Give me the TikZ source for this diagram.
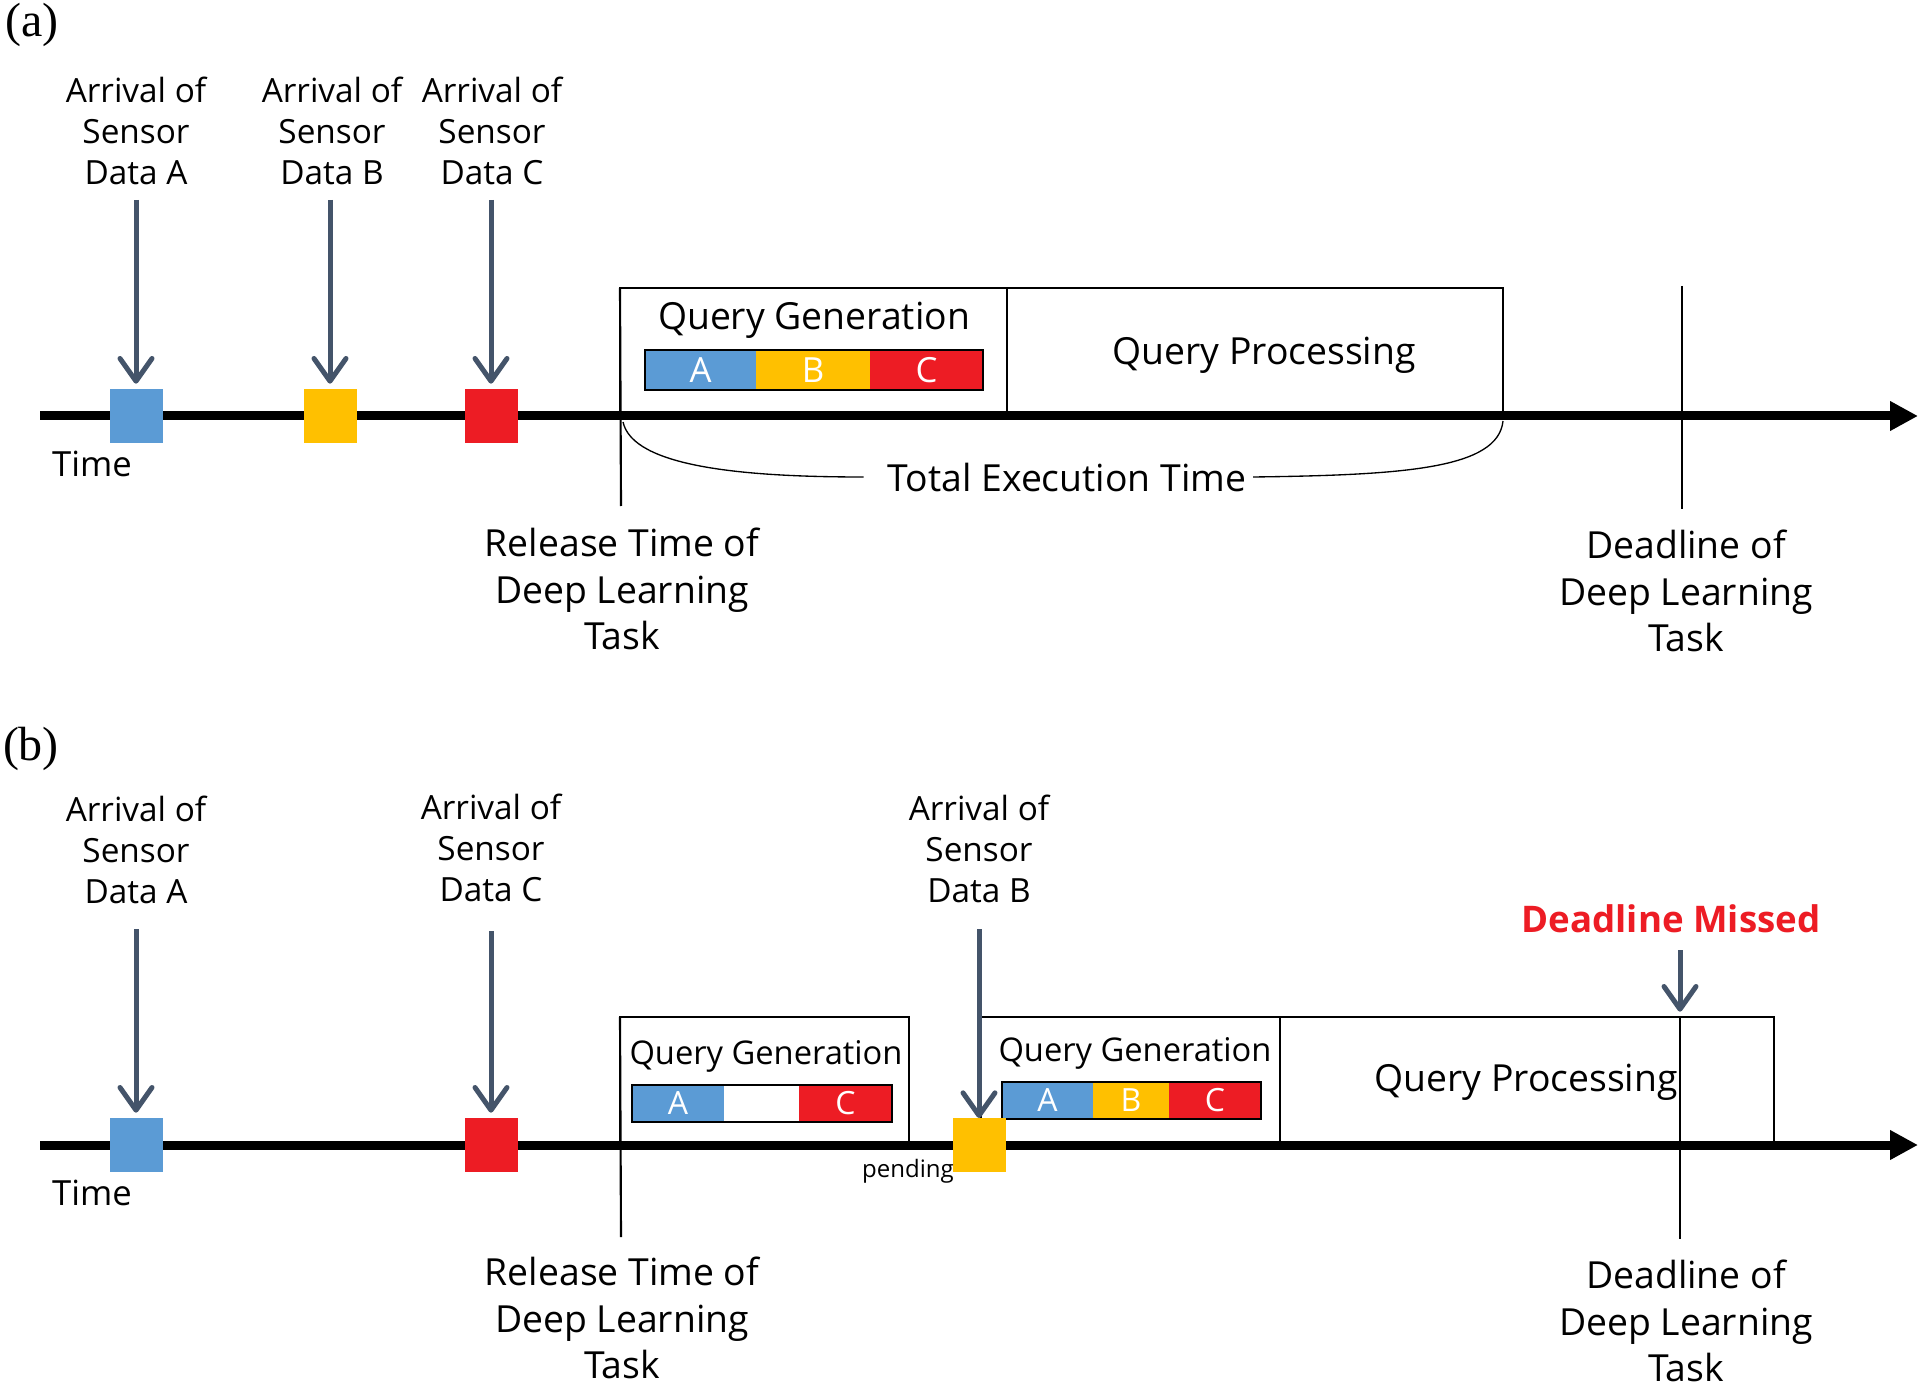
\documentclass[tikz,border=0pt]{standalone}
\usepackage{fontspec}
\setmainfont{Open Sans}
\newfontfamily\panelfont{Liberation Serif}
\usetikzlibrary{arrows.meta}
\definecolor{cblue}{HTML}{5B9BD5}
\definecolor{cyel}{HTML}{FFC000}
\definecolor{cred}{HTML}{ED1C24}
\definecolor{carr}{HTML}{44546A}
\begin{document}
\begin{tikzpicture}[x=0.75pt,y=-0.75pt,
  lbl/.style={align=center,inner sep=0pt,font=\fontsize{25}{30.75}\selectfont},
  big/.style={align=center,inner sep=0pt,font=\fontsize{28}{35}\selectfont},
  qtext/.style={inner sep=0pt,font=\fontsize{28}{34}\selectfont},
  qsmall/.style={inner sep=0pt,font=\fontsize{24.5}{30}\selectfont},
  sqr/.style={minimum width=39.75pt,minimum height=40.5pt,inner sep=0pt,outer sep=0pt},
  arr/.style={draw=carr,line width=3.75pt,-{Straight Barb[length=17pt,width=24pt,line cap=round,line join=round]}},
  taxis/.style={line width=6.75pt,-{Triangle[length=21pt,width=21pt]}},
  qbox/.style={draw,line width=1.2pt,inner sep=0pt,outer sep=0pt,anchor=north west,minimum height=96pt},
  seg/.style={inner sep=0pt,outer sep=0pt,anchor=north west,text=white},
  vline/.style={line width=1.6pt},
  panel/.style={inner sep=0pt,font=\panelfont\fontsize{36}{40}\selectfont}
]
\useasboundingbox[fill=white] (0,0) rectangle (1924,1387);

% ================= panel (a) =================
\node[panel] (pa) at (32,25) {(a)};

\node[qbox,minimum width=290.25pt] (qga) at (620,288) {};
\node[qbox,minimum width=372pt] (qpa) at (1007,288) {};
\node[qtext] (tqga) at (814,320) {Query Generation};
\node[qtext] (tqpa) at (1264,355) {Query Processing};

\node[seg,fill=cblue,minimum width=83.25pt,minimum height=30pt,font=\fontsize{26}{30}\selectfont] (baA) at (645,350) {A};
\node[seg,fill=cyel,minimum width=85.5pt,minimum height=30pt,font=\fontsize{26}{30}\selectfont] (baB) at (756,350) {B};
\node[seg,fill=cred,minimum width=84.75pt,minimum height=30pt,font=\fontsize{26}{30}\selectfont] (baC) at (870,350) {C};
\draw[line width=1.8pt] (baA.north west) rectangle (baC.south east);

\coordinate (rela) at (621,506);
\draw[vline] (qga.north west) -- (rela);
\coordinate (dla1) at (1682,286);
\coordinate (dla2) at (1682,509);
\draw[vline] (dla1) -- (dla2);

\coordinate (axa0) at (40,416);
\coordinate (axa1) at (1918,416);
\draw[taxis] (axa0) -- (axa1);

\node[sqr,fill=cblue] (sqaA) at (136,416) {};
\node[sqr,fill=cyel] (sqaB) at (330,416) {};
\node[sqr,fill=cred] (sqaC) at (491,416) {};

\node[lbl] (laA) at (136,131) {Arrival of\\Sensor\\Data A};
\node[lbl] (laB) at (332,131) {Arrival of\\Sensor\\Data B};
\node[lbl] (laC) at (492,131) {Arrival of\\Sensor\\Data C};
\draw[arr] (sqaA |- 0,200) -- ([yshift=4pt]sqaA.north);
\draw[arr] (sqaB |- 0,200) -- ([yshift=4pt]sqaB.north);
\draw[arr] (sqaC |- 0,200) -- ([yshift=4pt]sqaC.north);

\node[lbl,font=\fontsize{26}{30}\selectfont] (tima) at (92,464) {Time};
\node[big] (rta) at (622,589) {Release Time of\\Deep Learning\\Task};
\node[big] (dta) at (1686,591) {Deadline of\\Deep Learning\\Task};

\node[qtext,fill=white,inner xsep=2pt] (teta) at (1067,477) {Total Execution Time};
\draw[line width=1pt] (623,422) .. controls +(10,45) and +(-120,0) .. ([xshift=-16pt]teta.west);
\draw[line width=1pt] ([xshift=3pt]teta.east) .. controls +(150,-2) and +(-5,48) .. (1503,421);

% ================= panel (b) =================
\node[panel] (pb) at (31,749) {(b)};

\node[qbox,minimum width=216.75pt] (qgb1) at (620,1017) {};
\node[qbox,minimum width=224.25pt] (qgb2) at (981,1017) {};
\node[qbox,minimum width=370.5pt] (qpb) at (1280,1017) {};
\node[qsmall] (tqgb1) at (766,1056) {Query Generation};
\node[qsmall] (tqgb2) at (1135,1053) {Query Generation};
\node[qtext] (tqpb) at (1526,1082) {Query Processing};

\node[seg,fill=cblue,minimum width=69pt,minimum height=27.75pt,font=\fontsize{24}{28}\selectfont] (bbA) at (632,1085) {A};
\node[seg,fill=white,minimum width=56.25pt,minimum height=27.75pt] (bbN) at (724,1085) {};
\node[seg,fill=cred,minimum width=69.75pt,minimum height=27.75pt,font=\fontsize{24}{28}\selectfont] (bbC) at (799,1085) {C};
\draw[line width=1.8pt] (bbA.north west) rectangle (bbC.south east);

\node[seg,fill=cblue,minimum width=68.25pt,minimum height=27.75pt,font=\fontsize{24}{28}\selectfont] (bcA) at (1002,1082) {A};
\node[seg,fill=cyel,minimum width=57pt,minimum height=27.75pt,font=\fontsize{24}{28}\selectfont] (bcB) at (1093,1082) {B};
\node[seg,fill=cred,minimum width=69pt,minimum height=27.75pt,font=\fontsize{24}{28}\selectfont] (bcC) at (1169,1082) {C};
\draw[line width=1.8pt] (bcA.north west) rectangle (bcC.south east);

\coordinate (relb) at (621,1237);
\draw[vline] (qgb1.north west) -- (relb);
\coordinate (dlb1) at (1680,1017);
\coordinate (dlb2) at (1680,1239);
\draw[vline] (dlb1) -- (dlb2);

\coordinate (axb0) at (40,1145);
\coordinate (axb1) at (1918,1145);
\draw[taxis] (axb0) -- (axb1);

\node[sqr,fill=cblue] (sqbA) at (136,1145) {};
\node[sqr,fill=cred] (sqbC) at (491,1145) {};
\node[sqr,fill=cyel] (sqbB) at (979,1145) {};

\node[lbl] (lbA) at (136,850) {Arrival of\\Sensor\\Data A};
\node[lbl] (lbC) at (491,848) {Arrival of\\Sensor\\Data C};
\node[lbl] (lbB) at (979,849) {Arrival of\\Sensor\\Data B};
\draw[arr] (sqbA |- 0,929) -- ([yshift=4pt]sqbA.north);
\draw[arr] (sqbC |- 0,931) -- ([yshift=4pt]sqbC.north);
\draw[arr] (sqbB |- 0,929) -- ([yshift=0pt]sqbB.north);

\node[inner sep=0pt,font=\fontsize{18}{22}\selectfont] (pend) at (908,1171) {pending};

\node[inner sep=0pt,text=cred,font=\bfseries\fontsize{27.5}{32}\selectfont] (dmis) at (1671,919) {Deadline Missed};
\draw[arr] (dlb1 |- 0,950) -- ([yshift=4pt]dlb1);

\node[lbl,font=\fontsize{26}{30}\selectfont] (timb) at (92,1193) {Time};
\node[big] (rtb) at (622,1318) {Release Time of\\Deep Learning\\Task};
\node[big] (dtb) at (1686,1321) {Deadline of\\Deep Learning\\Task};
\end{tikzpicture}
\end{document}
